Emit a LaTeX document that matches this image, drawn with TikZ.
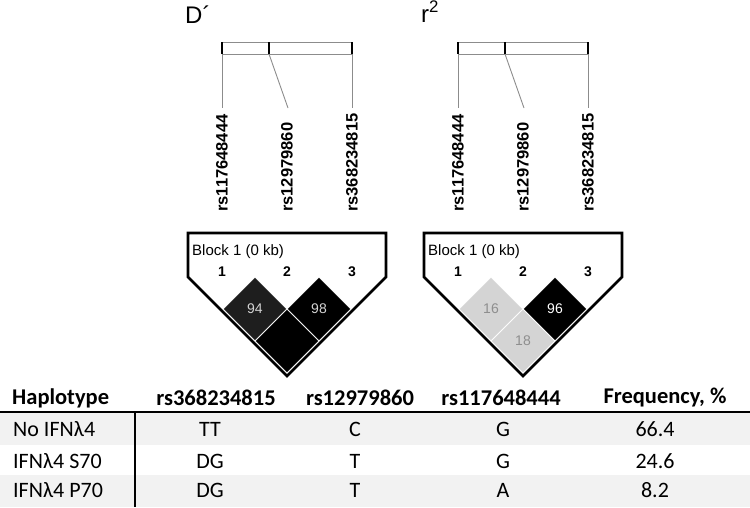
\documentclass[tikz,border=0pt]{standalone}
\usepackage{fontspec}
\setmainfont{Carlito}
\newfontfamily\hvfont{Liberation Sans}
\usetikzlibrary{shapes.geometric}
\definecolor{rowgray}{HTML}{F2F2F2}
\definecolor{linegray}{HTML}{8C8C8C}
\definecolor{ldlight}{HTML}{D4D4D4}
\definecolor{ldtext}{HTML}{8E8E8E}
\definecolor{lddark}{HTML}{1E1E1E}
\tikzset{
  snplabel/.style={rotate=90,anchor=west,inner sep=0pt,font=\hvfont\fontsize{16.5}{18}\selectfont\bfseries},
  ldcell/.style={diamond,draw=white,line width=0.8pt,inner sep=0pt,minimum width=64pt,minimum height=64pt,
    font=\hvfont\fontsize{14}{16}\selectfont},
  blockline/.style={line width=2.6pt,line join=miter},
  hdr/.style={font=\fontsize{22.5}{26}\selectfont\bfseries,inner sep=0pt},
  cell/.style={font=\fontsize{22}{26}\selectfont,inner sep=0pt},
}
\begin{document}
\begin{tikzpicture}[x=1pt,y=-1pt]
\useasboundingbox (0,0) rectangle (750,507);
% panel titles
\node[anchor=base west,inner sep=0pt,font=\hvfont\fontsize{24}{26}\selectfont] (tDp) at (185,23) {D´};
\node[anchor=base west,inner sep=0pt,font=\hvfont\fontsize{24}{26}\selectfont] (tr2) at (421,22) {r\textsuperscript{2}};
% marker map, names and block outline (same for both panels)
\foreach \s in {0,236} {
  \begin{scope}[xshift=\s]
    \draw[linegray,line width=1pt] (222,42) rectangle (352,54);
    \foreach \x in {222,269,352} \draw[black,line width=1.4pt] (\x,42)--(\x,54);
    \coordinate (top1-\s) at (222,54); \coordinate (bot1-\s) at (222,108);
    \coordinate (top2-\s) at (269,54); \coordinate (bot2-\s) at (288,108);
    \coordinate (top3-\s) at (352,54); \coordinate (bot3-\s) at (352,108);
    \foreach \i in {1,2,3} \draw[linegray,line width=0.9pt] (top\i-\s)--(bot\i-\s);
    \node[snplabel] (snp1-\s) at (222,212) {rs117648444};
    \node[snplabel] (snp2-\s) at (287,212) {rs12979860};
    \node[snplabel] (snp3-\s) at (352,212) {rs368234815};
  \end{scope}
}
% D' diamonds
\node[ldcell,fill=lddark,text=ldlight] (d12) at (255,309) {94};
\node[ldcell,fill=black,text=ldlight] (d23) at (319,309) {98};
\node[ldcell,fill=black] (d13) at (287,341) {};
% r2 diamonds
\node[ldcell,fill=ldlight,text=ldtext] (r12) at (491,309) {16};
\node[ldcell,fill=black,text=white] (r23) at (555,309) {96};
\node[ldcell,fill=ldlight,text=ldtext] (r13) at (523,341) {18};
\foreach \s in {0,236} {
  \begin{scope}[xshift=\s]
    \draw[blockline] (188,233)--(386,233)--(386,277)--(287,376)--(188,277)--cycle;
    \node[anchor=west,inner sep=0pt,font=\hvfont\fontsize{15}{17}\selectfont] (blk-\s) at (192,252) {Block 1 (0 kb)};
    \foreach \i/\x in {1/222,2/287,3/352}
      \node[inner sep=0pt,font=\hvfont\fontsize{14}{16}\selectfont\bfseries] (num\i-\s) at (\x,272) {\i};
  \end{scope}
}
% haplotype table
\fill[rowgray] (0,413) rectangle (750,445);
\fill[rowgray] (0,475) rectangle (750,507);
\draw[line width=2pt] (0,412)--(750,412);
\draw[line width=1.5pt] (135,412)--(135,507);
\node[hdr,anchor=west] (hhap) at (12,398) {Haplotype};
\node[hdr] (hc1) at (216,398) {rs368234815};
\node[hdr] (hc2) at (360,398) {rs12979860};
\node[hdr] (hc3) at (501,398) {rs117648444};
\node[hdr] (hfq) at (665,398) {Frequency, \%};
\foreach \r/\y/\hap/\a/\b/\c/\f in {1/429/No IFNλ4/TT/C/G/66.4,
                                     2/461/IFNλ4 S70/DG/T/G/24.6,
                                     3/490/IFNλ4 P70/DG/T/A/8.2} {
  \node[cell,anchor=west] (hap\r) at (13,\y) {\hap};
  \node[cell] (a\r) at (210,\y) {\a};
  \node[cell] (b\r) at (355,\y) {\b};
  \node[cell] (c\r) at (503,\y) {\c};
  \node[cell] (f\r) at (655,\y) {\f};
}
\end{tikzpicture}
\end{document}
